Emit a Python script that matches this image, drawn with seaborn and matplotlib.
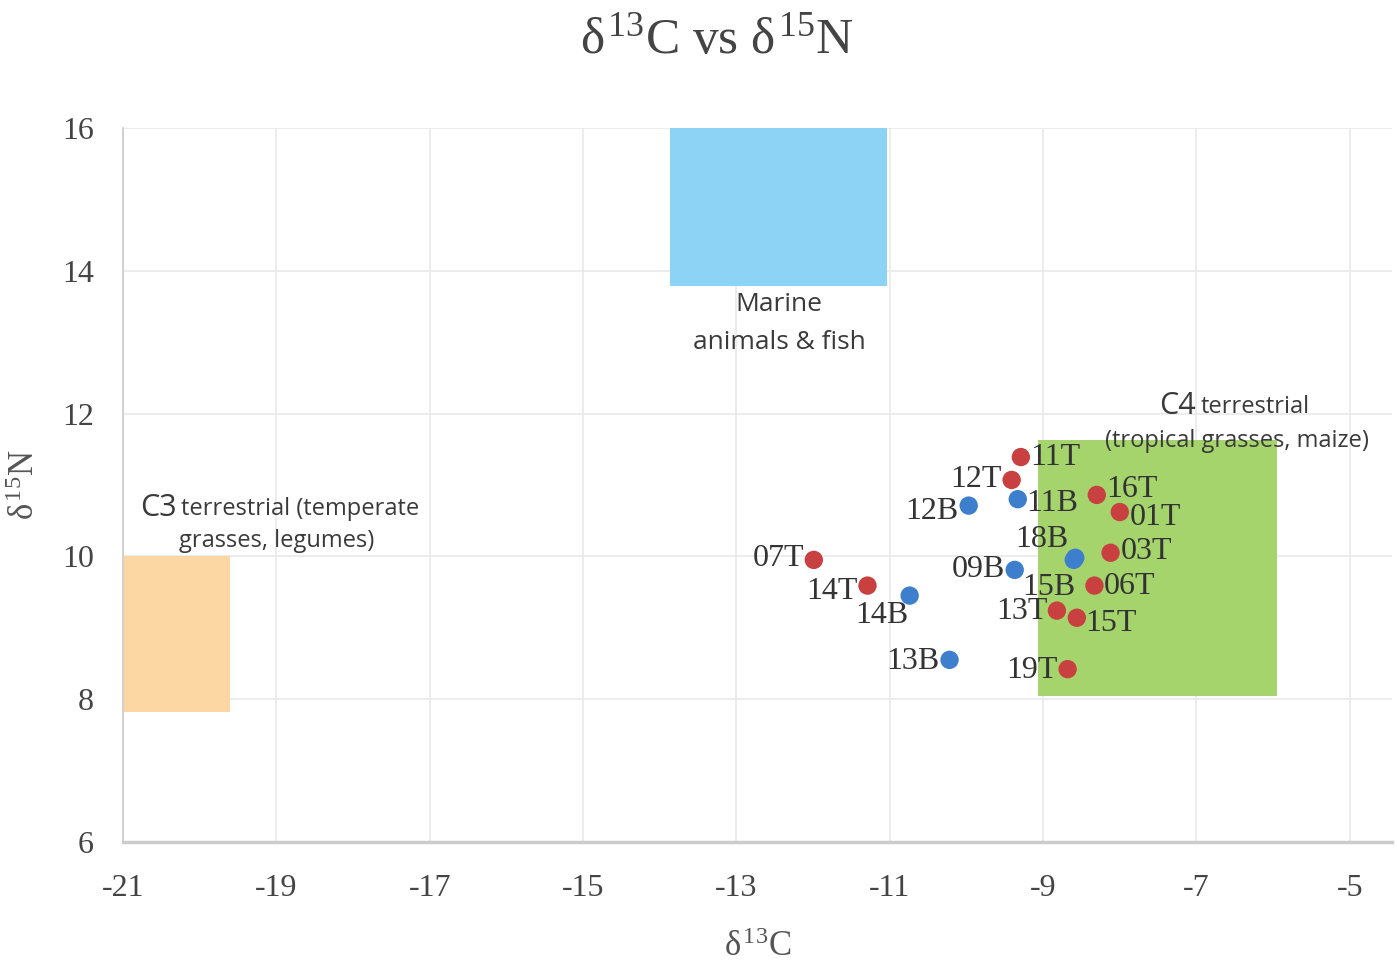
import pandas as pd
import seaborn as sns
import matplotlib.pyplot as plt
from matplotlib.patches import Rectangle

# sample values
labels = ["11T", "12T", "12B", "11B", "16T", "01T", "18B", "15B", "03T", "09B",
          "06T", "07T", "14T", "14B", "13T", "15T", "13B", "19T"]
d13c = [-9.29, -9.41, -9.97, -9.33, -8.30, -8.00, -8.58, -8.60, -8.12, -9.37,
        -8.33, -11.99, -11.29, -10.74, -8.82, -8.56, -10.22, -8.68]
d15n = [11.39, 11.07, 10.71, 10.80, 10.86, 10.62, 9.98, 9.95, 10.05, 9.81,
        9.59, 9.95, 9.59, 9.45, 9.24, 9.14, 8.55, 8.42]
groups = ["T" if lab.endswith("T") else "B" for lab in labels]

# reference ranges: (x0, x1, y0, y1)
marine_box = (-13.87, -11.03, 13.78, 16.0)
c3_box = (-21.0, -19.61, 7.82, 10.0)
c4_box = (-9.07, -5.95, 8.05, 11.63)

# label placement: (dx, dy) in points, horizontal alignment
placement = {
    "11T": (7, 0, "left"), "12T": (-7, 0, "right"), "12B": (-7, -4, "right"),
    "11B": (6, -3, "left"), "16T": (7, 4, "left"), "01T": (7, -4, "left"),
    "18B": (-5, 13, "right"), "15B": (1, -20, "right"), "03T": (7, 1, "left"),
    "09B": (-7, 0, "right"), "06T": (7, -1, "left"), "07T": (-7, 1, "right"),
    "14T": (-7, -4, "right"), "14B": (-1, -14, "right"), "13T": (-7, -1, "right"),
    "15T": (6, -4, "left"), "13B": (-7, -1, "right"), "19T": (-7, -1, "right"),
}

df = pd.DataFrame({"label": labels, "d13c": d13c, "d15n": d15n, "group": groups})

sns.set_theme(style="whitegrid")
plt.rcParams["font.family"] = ["Liberation Serif", "DejaVu Serif"]
plt.rcParams["mathtext.fontset"] = "custom"
plt.rcParams["mathtext.rm"] = "Liberation Serif"
plt.rcParams["mathtext.it"] = "Liberation Serif"
plt.rcParams["axes.unicode_minus"] = False

fig = plt.figure(figsize=(13.97, 9.65), dpi=100)
ax = fig.add_axes([0.088, 0.1275, 0.9084, 0.74])

for (x0, x1, y0, y1), col in [(marine_box, "#8dd3f6"), (c3_box, "#fdd7a3"), (c4_box, "#a6d46c")]:
    ax.add_patch(Rectangle((x0, y0), x1 - x0, y1 - y0, facecolor=col,
                           edgecolor="none", zorder=1))

sns.scatterplot(data=df, x="d13c", y="d15n", hue="group",
                palette={"T": "#c8403f", "B": "#3e7fcd"}, hue_order=["B", "T"],
                s=175, edgecolor="none", legend=False, zorder=3, ax=ax)

for lab, x, y in zip(labels, d13c, d15n):
    dx, dy, ha = placement[lab]
    ax.annotate(lab, (x, y), xytext=(dx, dy), textcoords="offset points",
                ha=ha, va="center", fontsize=23, color="#333333", zorder=4)

sans = ["Open Sans", "DejaVu Sans"]
txt = dict(color="#3a3a3a", family=sans, zorder=4)
ax.text(-12.44, 13.52, "Marine", ha="center", va="center", fontsize=19, **txt)
ax.text(-12.44, 13.0, "animals & fish", ha="center", va="center", fontsize=19, **txt)
ax.text(-20.30, 10.68, "C3", ha="right", va="center", fontsize=22, **txt)
ax.text(-20.24, 10.66, "terrestrial (temperate", ha="left", va="center", fontsize=17, **txt)
ax.text(-19.0, 10.21, "grasses, legumes)", ha="center", va="center", fontsize=17, **txt)
ax.text(-7.01, 12.11, "C4", ha="right", va="center", fontsize=22, **txt)
ax.text(-6.95, 12.09, "terrestrial", ha="left", va="center", fontsize=17, **txt)
ax.text(-6.47, 11.62, "(tropical grasses, maize)", ha="center", va="center", fontsize=17, **txt)

ax.set_xlim(-21, -4.45)
ax.set_ylim(6, 16)
ax.set_xticks(range(-21, -4, 2))
ax.set_yticks(range(6, 17, 2))
ax.grid(color="#e9e9e9", linewidth=1.2)
ax.tick_params(axis="both", labelsize=23, colors="#444444", length=5, width=1,
               color="#cccccc", pad=16)
ax.tick_params(axis="x", pad=18)
for side in ["top", "right"]:
    ax.spines[side].set_visible(False)
ax.spines["left"].set_color("#cccccc")
ax.spines["bottom"].set_color("#cccccc")
ax.spines["bottom"].set_linewidth(2.5)

ax.set_xlabel(r"$\delta^{13}$C", fontsize=25, color="#555555", labelpad=20)
ax.set_ylabel(r"$\delta^{15}$N", fontsize=25, color="#555555", labelpad=14)
fig.text(0.513, 0.958, r"$\delta^{13}$C vs $\delta^{15}$N", ha="center", va="center",
         fontsize=37, color="#444444")

fig.savefig("out.png", dpi=100)
